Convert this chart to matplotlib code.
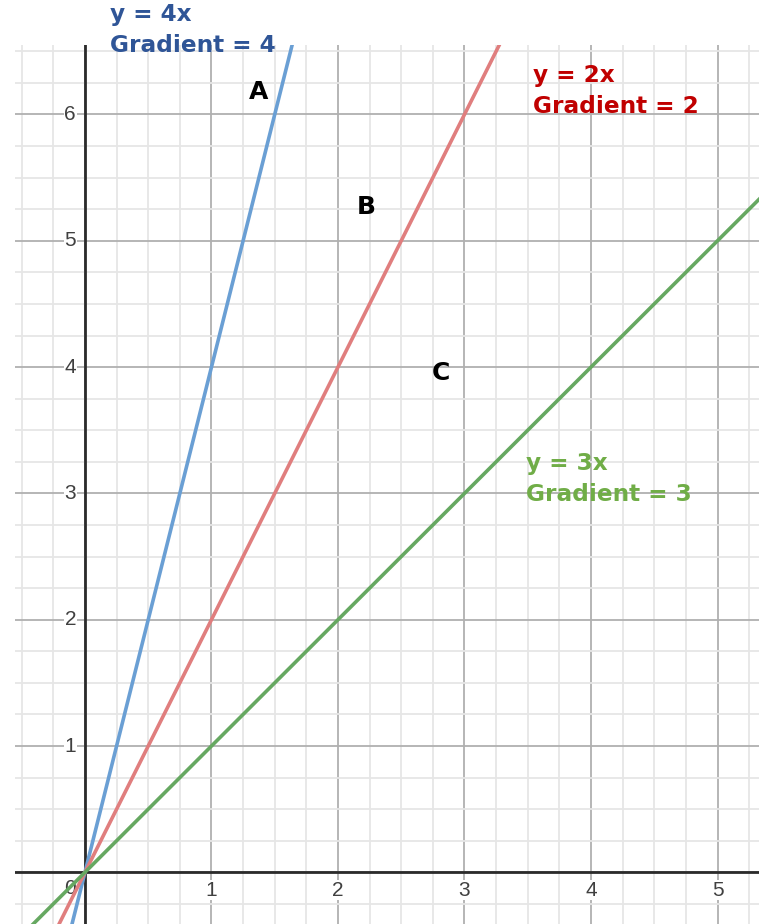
import matplotlib.pyplot as plt
import numpy as np

# lines (all through the origin)
gradients = [4, 2, 1]
line_colors = ['#6a9fd4', '#e07e7e', '#66a861']

# annotations
labels = [['y = 4x', 'Gradient = 4'], ['y = 2x', 'Gradient = 2'], ['y = 3x', 'Gradient = 3']]
label_colors = ['#2f5597', '#c00000', '#70ad47']
label_pos = [(0.20, 6.79), (3.54, 6.31), (3.49, 3.24)]
letters = ['A', 'B', 'C']
letter_pos = [(1.37, 6.18), (2.22, 5.27), (2.81, 3.95)]

x_ticks = [1, 2, 3, 4, 5]
y_ticks = [1, 2, 3, 4, 5, 6]

fig = plt.figure(figsize=(7.59, 9.24), dpi=100)
ax = fig.add_axes([15 / 759, 0, 744 / 759, 879 / 924])
ax.set_xlim(-0.553, 5.328)
ax.set_ylim(-0.409, 6.55)
for s in ax.spines.values():
    s.set_visible(False)
ax.set_xticks([])
ax.set_yticks([])

# grid
for v in np.arange(-0.5, 5.5, 0.25):
    major = float(v).is_integer()
    ax.axvline(v, color='#b0b0b0' if major else '#e6e6e6', lw=1.3, zorder=0)
for v in np.arange(-0.25, 6.75, 0.25):
    major = float(v).is_integer()
    ax.axhline(v, color='#b0b0b0' if major else '#e6e6e6', lw=1.3, zorder=0)
ax.axhline(0, color='#2b2b2b', lw=2, zorder=1)
ax.axvline(0, color='#2b2b2b', lw=2, zorder=1)

# tick labels
tick_font = dict(fontsize=15, color='#404040', family='Liberation Sans')
for t in x_ticks:
    ax.text(t, -0.14, str(t), ha='center', va='center', zorder=2,
            bbox=dict(facecolor='white', edgecolor='none', pad=0.3), **tick_font)
for t in y_ticks:
    ax.text(-0.07, t, str(t), ha='right', va='center', zorder=2,
            bbox=dict(facecolor='white', edgecolor='none', pad=0.3), **tick_font)
ax.text(-0.12, -0.13, '0', ha='center', va='center', zorder=2, **tick_font)

# lines
for m, c in zip(gradients, line_colors):
    ax.axline((0, 0), slope=m, color=c, lw=2.6, zorder=3)

# labels
for (l1, l2), c, (x, y) in zip(labels, label_colors, label_pos):
    ax.text(x, y, l1, color=c, fontsize=16.7, fontweight='bold', family='DejaVu Sans',
            ha='left', va='center', clip_on=False, zorder=4)
    ax.text(x, y - 0.245, l2, color=c, fontsize=16.7, fontweight='bold', family='DejaVu Sans',
            ha='left', va='center', clip_on=False, zorder=4)

for l, (x, y) in zip(letters, letter_pos):
    ax.text(x, y, l, color='black', fontsize=18, fontweight='bold', family='DejaVu Sans',
            ha='center', va='center', zorder=4)

fig.savefig('out.png', dpi=100)
